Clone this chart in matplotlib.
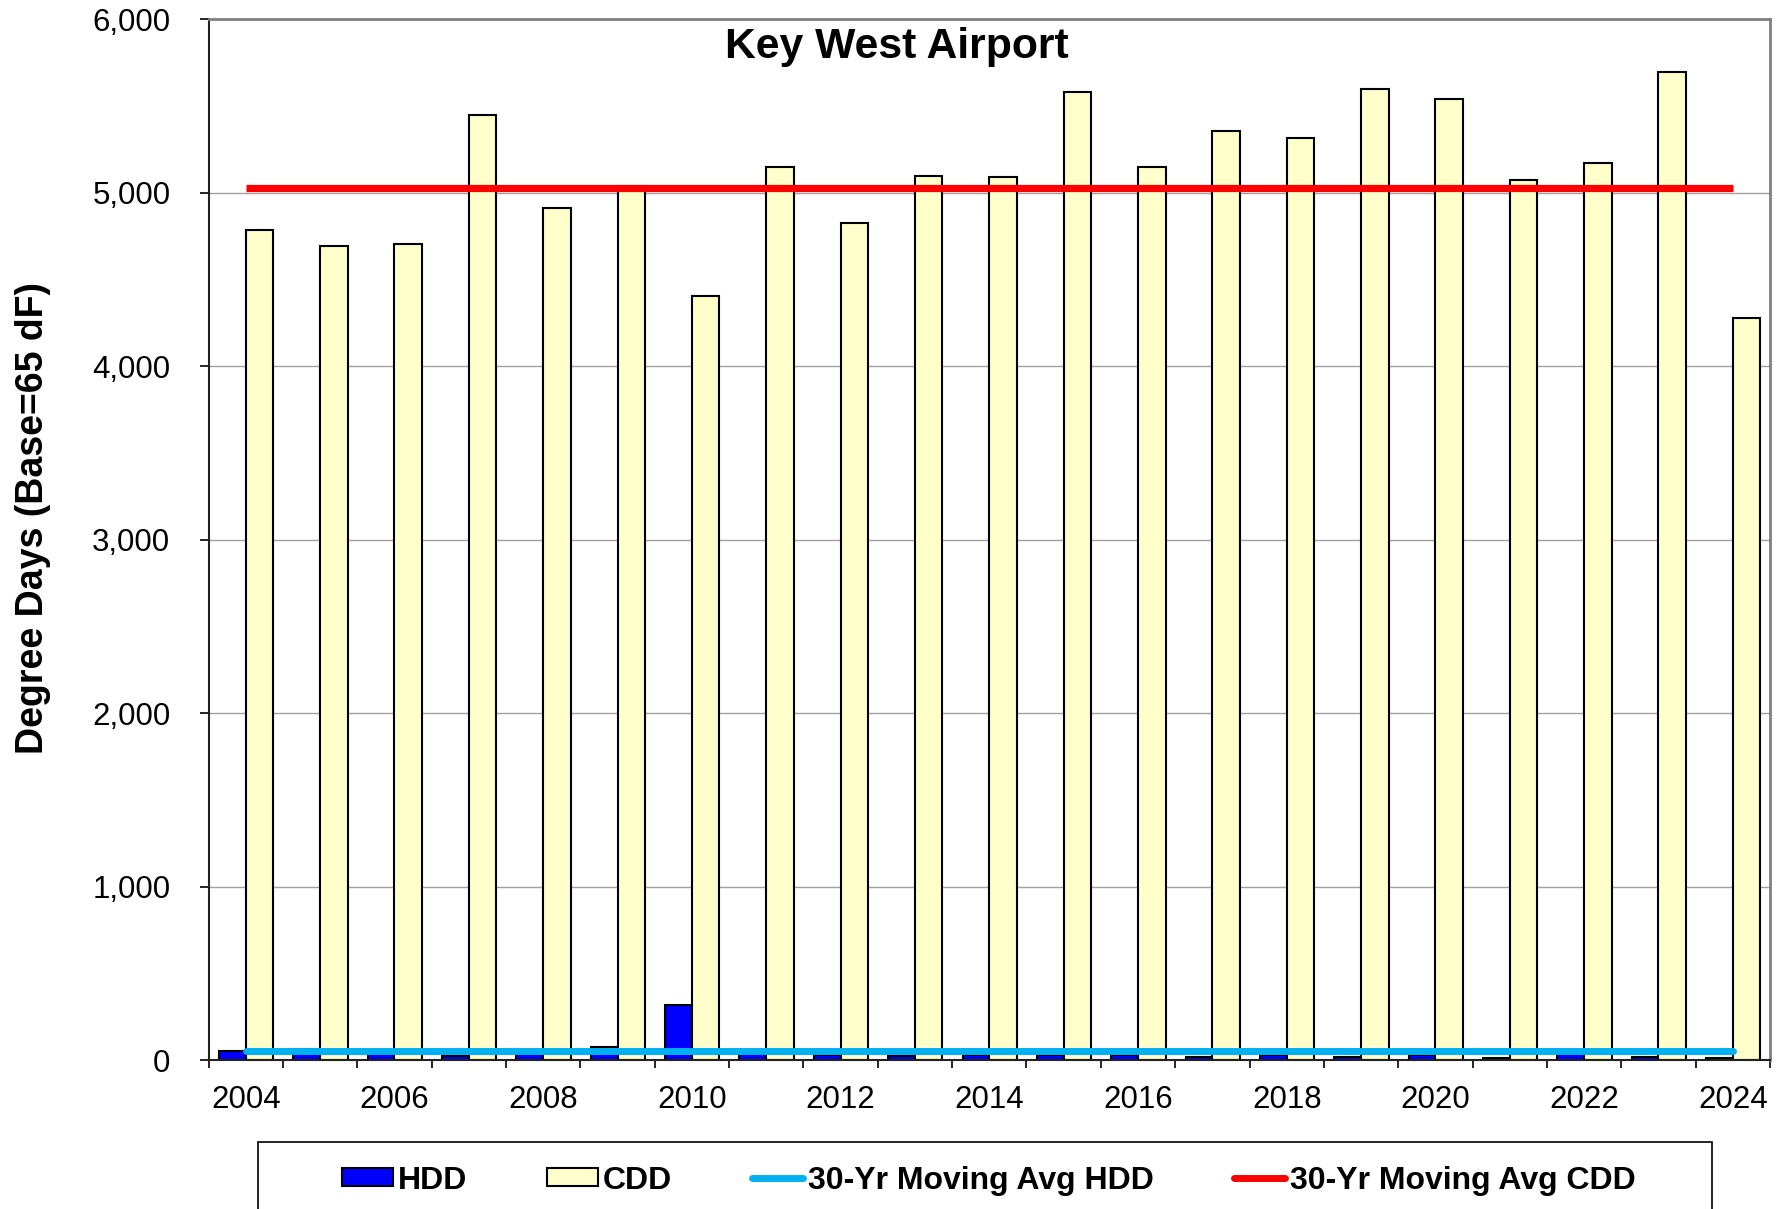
import numpy as np
import matplotlib
matplotlib.use('Agg')
import matplotlib.pyplot as plt
from matplotlib.patches import Patch, Rectangle
from matplotlib.lines import Line2D
from matplotlib.ticker import FuncFormatter, FixedLocator

plt.rcParams['font.family'] = ['Liberation Sans', 'DejaVu Sans']

# 数据：Key West 机场 度日数
years = list(range(2004, 2025))
hdd = [52, 65, 45, 23, 35, 77, 317, 45, 31, 23, 27, 27, 27, 19, 31, 19, 27, 13, 35, 15, 10]
cdd = [4784, 4692, 4705, 5448, 4915, 5040, 4403, 5146, 4824, 5099, 5093,
       5579, 5146, 5356, 5316, 5599, 5540, 5073, 5172, 5698, 4278]
avg_hdd = 54
avg_cdd = 5028

title = 'Key West Airport'
ylabel = 'Degree Days (Base=65 dF)'

fig = plt.figure(figsize=(17.87, 12.09), dpi=100)
ax = fig.add_axes([0.1167, 0.1232, 0.8738, 0.8608])

x = np.arange(len(years))
ax.bar(x - 0.36, hdd, width=0.36, align='edge', color='#0000FF',
       edgecolor='black', linewidth=1.5, zorder=2)
ax.bar(x, cdd, width=0.37, align='edge', color='#FFFFCC',
       edgecolor='black', linewidth=1.5, zorder=2)

ax.plot([x[0], x[-1]], [avg_hdd, avg_hdd], color='#00B0F0', lw=5,
        solid_capstyle='round', zorder=3)
ax.plot([x[0], x[-1]], [avg_cdd, avg_cdd], color='#FF0000', lw=5.2,
        solid_capstyle='butt', zorder=3)

ax.set_xlim(-0.5, len(years) - 0.5)
ax.set_ylim(0, 6000)
ax.set_yticks(np.arange(0, 6001, 1000))
ax.yaxis.set_major_formatter(FuncFormatter(lambda v, p: '{:,.0f}'.format(v)))
ax.grid(axis='y', color='#A0A0A0', lw=1, zorder=0)
ax.set_axisbelow(True)

# x轴：标签在类别中心，刻度在类别边界
ax.xaxis.set_major_locator(FixedLocator(x))
ax.set_xticklabels([str(y) if y % 2 == 0 else '' for y in years])
ax.xaxis.set_minor_locator(FixedLocator(np.arange(-0.5, len(years), 1.0)))
ax.tick_params(axis='x', which='major', length=0, pad=18, labelsize=22.5)
ax.tick_params(axis='x', which='minor', length=6, width=1.2, direction='out')
ax.tick_params(axis='y', length=6.5, width=1.2, direction='out', pad=21, labelsize=22.5)

for s in ['top', 'right']:
    ax.spines[s].set_color('#808080')
    ax.spines[s].set_linewidth(2)
for s in ['left', 'bottom']:
    ax.spines[s].set_color('#222222')
    ax.spines[s].set_linewidth(1.5)

ax.text(0.441, 0.973, title, transform=ax.transAxes, ha='center', va='center',
        fontsize=30.7, fontweight='bold')
ax.set_ylabel(ylabel, fontsize=27, fontweight='bold')
ax.yaxis.set_label_coords(-0.101, 0.521)

# 图例
fig.patches.append(Rectangle((0.1441, -0.05), 0.814, 0.1054, transform=fig.transFigure,
                             facecolor='white', edgecolor='black', lw=1.2))
handles = [Patch(facecolor='#0000FF', edgecolor='black', lw=1.5),
           Patch(facecolor='#FFFFCC', edgecolor='black', lw=1.5),
           Line2D([], [], color='#00B0F0', lw=5, solid_capstyle='round'),
           Line2D([], [], color='#FF0000', lw=5, solid_capstyle='round')]
labels = ['HDD', 'CDD', '30-Yr Moving Avg HDD', '30-Yr Moving Avg CDD']
fig.legend(handles, labels, loc='center', bbox_to_anchor=(0.5533, 0.0235), ncol=4,
           frameon=False, columnspacing=2.5, handlelength=1.6, handleheight=0.5,
           handletextpad=0.15, prop={'size': 23, 'weight': 'bold'})

fig.savefig('out.png', dpi=100)
